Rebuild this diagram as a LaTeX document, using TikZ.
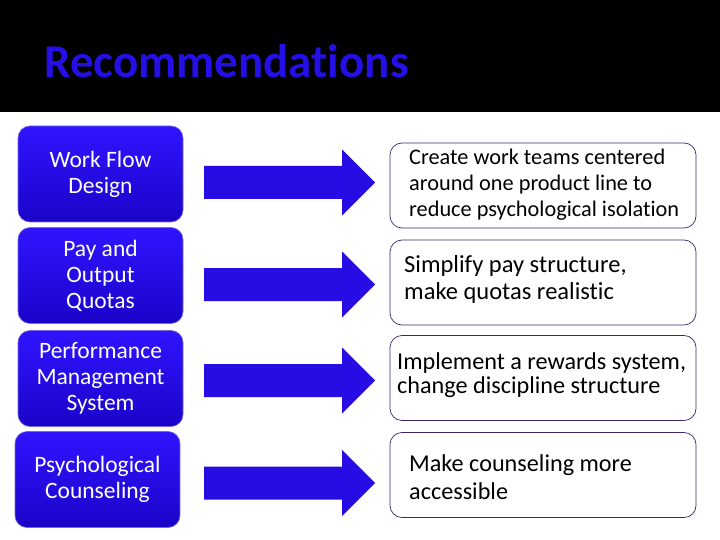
\documentclass[tikz,border=0pt]{standalone}
\usepackage{fontspec}
\setmainfont{Carlito}[RawFeature={-liga}]
\definecolor{titleblue}{RGB}{36,16,230}
\definecolor{boxtop}{RGB}{48,20,255}
\definecolor{boxbot}{RGB}{26,4,200}
\definecolor{arrowblue}{RGB}{40,12,228}
\definecolor{rborder}{RGB}{60,40,110}
\begin{document}
\begin{tikzpicture}[x=1pt,y=-1pt,
  lbox/.style={rounded corners=12pt, top color=boxtop, bottom color=boxbot, draw=boxbot!60!white, line width=0.6pt,
     minimum width=165pt, minimum height=96pt, inner sep=0pt, text=white, align=center,
     font=\fontsize{23.5}{26}\selectfont},
  rbox/.style={rounded corners=12pt, draw=rborder, line width=0.7pt, fill=white,
     minimum width=306pt, minimum height=85pt, inner sep=0pt},
  rtext/.style={anchor=west, align=left, inner sep=0pt, text=black},
  bigarrow/.style={fill=arrowblue}
]
\useasboundingbox (0,0) rectangle (720,540);
\fill[white] (0,0) rectangle (720,540);
\fill[black] (0,0) rectangle (720,112);
\node[anchor=base west, inner sep=0pt, text=titleblue, font=\fontsize{47}{56}\selectfont\bfseries] (title) at (44,78) {Recommendations};

% left boxes
\node[lbox] (l1) at (100.5,174) {Work Flow\\Design};
\node[lbox] (l2) at (100.5,275.5) {Pay and\\Output\\Quotas};
\node[lbox] (l3) at (100.5,378.5) {Performance\\Management\\System};
\node[lbox] (l4) at (97.5,479.5) {Psychological\\Counseling};

% right boxes
\node[rbox] (r1) at (543,185.5) {};
\node[rbox] (r2) at (543,282.5) {};
\node[rbox] (r3) at (543,378) {};
\node[rbox] (r4) at (543,475) {};

\node[rtext, font=\fontsize{22.3}{26}\selectfont] (t1) at (409,185) {Create work teams centered\\around one product line to\\reduce psychological isolation};
\node[rtext, font=\fontsize{24.5}{27}\selectfont] (t2) at (404,279.5) {Simplify pay structure,\\make quotas realistic};
\node[rtext, font=\fontsize{24.2}{24}\selectfont] (t3) at (397,375) {Implement a rewards system,\\change discipline structure};
\node[rtext, font=\fontsize{24.2}{28}\selectfont] (t4) at (409,477.5) {Make counseling more\\accessible};

% arrows
\foreach \n/\yc in {a1/182.5, a2/284.5, a3/380.5, a4/483} {
  \coordinate (\n) at (204,\yc);
  \fill[bigarrow] (\n) ++(0,-16.5) -- ++(138,0) -- ++(0,-16.5) -- ++(33,33) -- ++(-33,33) -- ++(0,-16.5) -- ++(-138,0) -- cycle;
}
\end{tikzpicture}
\end{document}
